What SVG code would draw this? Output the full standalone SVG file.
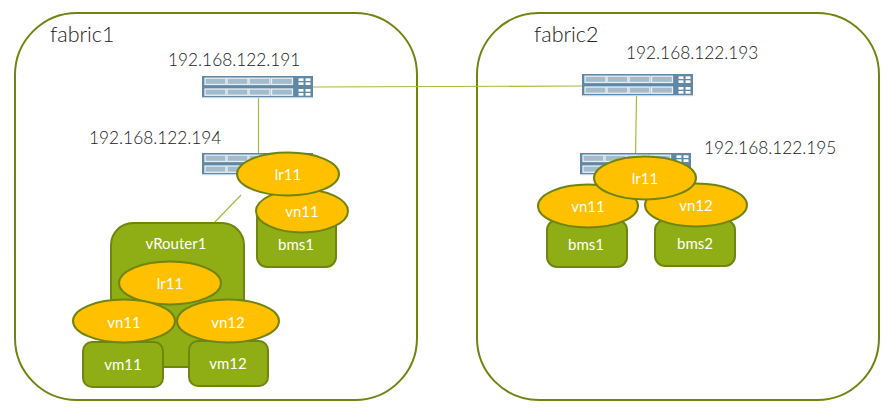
<svg xmlns="http://www.w3.org/2000/svg" width="886" height="409" viewBox="0 0 886 409">
<style>
text{font-family:Lato,"Open Sans",sans-serif}
.fab{fill:#fff;stroke:#6f8510;stroke-width:2}
.lbl{font-size:17.300px;fill:#222;font-weight:300}
.title{font-size:21.500px;fill:#222;font-weight:300}
.box{fill:#8fad15;stroke:#6f8510;stroke-width:2}
.ell{fill:#ffc000;stroke:#6f8510;stroke-width:2}
.w{font-size:15px;fill:#fff;text-anchor:middle}
.c{fill:none;stroke:#a4bb3c;stroke-width:1.200}
.p{fill:#a3bccd;stroke:#e8eff3;stroke-width:1.300}
</style>
<defs>
<g id="sw">
<rect x="0" y="0" width="111" height="21" fill="#5f88a6"/>
<rect x="0" y="21" width="111" height="1.200" fill="#c5d4df"/>
<g class="p">
<rect x="3" y="2.200" width="21" height="6.300"/><rect x="25" y="2.200" width="21" height="6.300"/><rect x="47" y="2.200" width="21" height="6.300"/><rect x="69.500" y="2.200" width="21" height="6.300"/>
<rect x="3" y="13" width="21" height="6.300"/><rect x="25" y="13" width="21" height="6.300"/><rect x="47" y="13" width="21" height="6.300"/><rect x="69.500" y="13" width="21" height="6.300"/>
</g>
<g fill="#fff">
<rect x="96.500" y="2.300" width="5" height="2.700"/><rect x="103.500" y="2.300" width="5" height="2.700"/><rect x="96.500" y="6.300" width="5" height="2.700"/><rect x="103.500" y="6.300" width="5" height="2.700"/>
<rect x="96.500" y="13" width="5" height="2.700"/><rect x="103.500" y="13" width="5" height="2.700"/><rect x="96.500" y="17" width="5" height="2.700"/><rect x="103.500" y="17" width="5" height="2.700"/>
</g>
</g>
</defs>
<rect width="886" height="409" fill="#fff"/>
<g id="fabric1"><rect class="fab" x="15" y="13" width="402" height="387" rx="62"/><text class="title" x="50" y="42">fabric1</text></g>
<g id="fabric2"><rect class="fab" x="477" y="13" width="402" height="387" rx="62"/><text class="title" x="534" y="42">fabric2</text></g>
<g id="connectors">
<line class="c" x1="313" y1="87" x2="582" y2="86"/>
<line class="c" x1="258.500" y1="97" x2="258.500" y2="155"/>
<line class="c" x1="636.500" y1="96" x2="635.500" y2="156"/>
<line class="c" x1="241" y1="195" x2="213" y2="224"/>
</g>
<g id="switch191"><use href="#sw" x="202" y="76"/><text class="lbl" x="168" y="66">192.168.122.191</text></g>
<g id="switch193"><use href="#sw" x="582" y="74"/><text class="lbl" x="626" y="59">192.168.122.193</text></g>
<g id="switch194"><use href="#sw" x="202" y="153"/><text class="lbl" x="89" y="144">192.168.122.194</text></g>
<g id="switch195"><use href="#sw" x="580" y="153"/><text class="lbl" x="704" y="154">192.168.122.195</text></g>
<g id="vRouter1"><rect class="box" x="111" y="223" width="133" height="144" rx="22"/><text class="w" x="176" y="249">vRouter1</text></g>
<g id="f1-bms1"><rect class="box" x="257" y="205" width="79" height="62" rx="10"/><text class="w" x="296" y="250">bms1</text></g>
<g id="f1-vn11"><ellipse class="ell" cx="302" cy="211" rx="46" ry="21.500"/><text class="w" x="302" y="217">vn11</text></g>
<g id="f1-lr11"><ellipse class="ell" cx="288" cy="174" rx="51" ry="21.500"/><text class="w" x="288" y="180">lr11</text></g>
<g id="vr-vm11"><rect class="box" x="83" y="342" width="80" height="45" rx="9"/><text class="w" x="123" y="370">vm11</text></g>
<g id="vr-vm12"><rect class="box" x="189" y="341" width="79" height="45" rx="9"/><text class="w" x="228" y="369">vm12</text></g>
<g id="vr-lr11"><ellipse class="ell" cx="170" cy="283" rx="51" ry="21.500"/><text class="w" x="170" y="288.500">lr11</text></g>
<g id="vr-vn11"><ellipse class="ell" cx="124" cy="321" rx="51" ry="21.500"/><text class="w" x="124" y="327.500">vn11</text></g>
<g id="vr-vn12"><ellipse class="ell" cx="228" cy="321" rx="51" ry="21.500"/><text class="w" x="228" y="327.500">vn12</text></g>
<g id="f2-bms1"><rect class="box" x="547" y="220" width="80" height="47" rx="10"/><text class="w" x="586" y="250">bms1</text></g>
<g id="f2-bms2"><rect class="box" x="655" y="220" width="80" height="46" rx="10"/><text class="w" x="695" y="249">bms2</text></g>
<g id="f2-vn11"><ellipse class="ell" cx="588" cy="206" rx="50" ry="21.500"/><text class="w" x="588" y="212">vn11</text></g>
<g id="f2-vn12"><ellipse class="ell" cx="696" cy="205" rx="51" ry="21.500"/><text class="w" x="696" y="211">vn12</text></g>
<g id="f2-lr11"><ellipse class="ell" cx="645" cy="178" rx="51" ry="21.500"/><text class="w" x="645" y="184">lr11</text></g>
</svg>
